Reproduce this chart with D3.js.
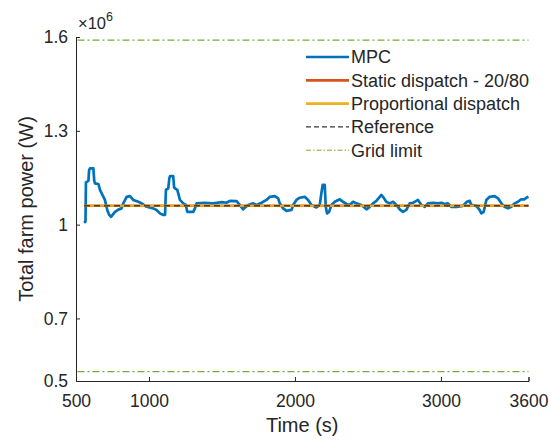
<!DOCTYPE html>
<html><head><meta charset="utf-8">
<script src="https://cdn.jsdelivr.net/npm/d3@7"></script>
<style>body{margin:0;background:#fff}svg{display:block;font-family:"Liberation Sans",Arial,sans-serif}</style>
</head><body><svg id="c" width="551" height="441"></svg>
<script>
// Values in units of 10^6 W
const mpcTime = [555,565,568,585,590,596,619,625,630,653,665,676,698,715,728,740,767,790,812,824,847,870,892,927,950,984,1029,1052,1075,1098,1110,1116,1132,1140,1145,1166,1172,1178,1194,1212,1235,1253,1262,1269,1303,1315,1326,1380,1440,1500,1531,1554,1600,1622,1645,1679,1714,1737,1771,1805,1828,1862,1885,1896,1919,1942,1976,1988,2010,2033,2067,2090,2113,2147,2170,2181,2190,2204,2211,2220,2234,2250,2273,2307,2330,2353,2375,2398,2421,2455,2490,2512,2535,2558,2592,2603,2626,2649,2672,2695,2718,2740,2763,2786,2809,2832,2843,2866,2889,2911,2946,2980,3003,3026,3048,3071,3106,3151,3178,3197,3208,3242,3265,3277,3293,3311,3334,3368,3391,3414,3436,3459,3482,3505,3528,3550,3573,3585,3600];
const mpcPower = [1.006,1.010,1.135,1.140,1.175,1.180,1.180,1.140,1.132,1.130,1.110,1.100,1.079,1.045,1.031,1.025,1.041,1.048,1.052,1.068,1.089,1.091,1.079,1.073,1.068,1.057,1.052,1.047,1.036,1.031,1.031,1.111,1.116,1.150,1.155,1.155,1.120,1.116,1.111,1.079,1.068,1.063,1.041,1.041,1.041,1.052,1.068,1.070,1.068,1.072,1.070,1.076,1.075,1.063,1.049,1.063,1.068,1.063,1.070,1.079,1.089,1.091,1.084,1.068,1.052,1.044,1.047,1.063,1.079,1.086,1.089,1.079,1.063,1.055,1.063,1.100,1.127,1.127,1.057,1.036,1.041,1.063,1.073,1.081,1.073,1.066,1.063,1.073,1.068,1.063,1.049,1.057,1.068,1.076,1.095,1.089,1.073,1.068,1.073,1.063,1.049,1.041,1.047,1.068,1.070,1.076,1.079,1.063,1.057,1.068,1.070,1.068,1.070,1.066,1.068,1.057,1.057,1.060,1.073,1.076,1.063,1.060,1.047,1.036,1.041,1.079,1.089,1.091,1.084,1.068,1.057,1.052,1.057,1.068,1.073,1.081,1.081,1.086,1.089];
const flatTime = [555, 3600];
const staticPower = [1.06, 1.06];
const propPower = [1.06, 1.06];
const referencePower = [1.06, 1.06];
const gridTime = [510, 3600];
const gridUpper = [1.59, 1.59];
const gridLower = [0.53, 0.53];
const xTicks = [500, 1000, 2000, 3000, 3600];
const yTicks = [0.5, 0.7, 1, 1.3, 1.6];
const seriesNames = ["MPC", "Static dispatch - 20/80", "Proportional dispatch", "Reference", "Grid limit"];
const colors = {mpc:"#0072BD", stat:"#D95319", prop:"#EDB120", ref:"#000000", grid:"#77AC30"};

const svg = d3.select("#c");
const m = {l:76, t:37, r:22.5, b:60};
const W = 551, H = 441;
const x = d3.scaleLinear().domain([500, 3600]).range([m.l, W - m.r]);
const y = d3.scaleLinear().domain([0.5, 1.6]).range([H - m.b, m.t]);

const line = d3.line().x(d => x(d[0])).y(d => y(d[1]));
const zip = (a, b) => a.map((v, i) => [v, b[i]]);

// Grid limits
[gridUpper, gridLower].forEach(g => {
  svg.append("path").datum(zip(gridTime, g)).attr("d", line).attr("fill","none")
    .attr("stroke", colors.grid).attr("stroke-width", 1.2).attr("stroke-dasharray", "7,3,2,3");
});

// MPC
svg.append("path").datum(zip(mpcTime, mpcPower)).attr("d", line).attr("fill","none")
  .attr("stroke", colors.mpc).attr("stroke-width", 2.7).attr("stroke-linejoin","round");
// static, proportional, reference
svg.append("path").datum(zip(flatTime, staticPower)).attr("d", line).attr("fill","none")
  .attr("stroke", colors.stat).attr("stroke-width", 2.5);
svg.append("path").datum(zip(flatTime, propPower)).attr("d", line).attr("fill","none")
  .attr("stroke", colors.prop).attr("stroke-width", 2);
svg.append("path").datum(zip(flatTime, referencePower)).attr("d", line).attr("fill","none")
  .attr("stroke", colors.ref).attr("stroke-width", 1).attr("stroke-dasharray", "6,4");

// Axes
const axCol = "#262626";
const xAxis = svg.append("g").attr("transform", `translate(0,${H - m.b})`)
  .call(d3.axisBottom(x).tickValues(xTicks).tickSizeInner(-4).tickSizeOuter(-4).tickPadding(10).tickFormat(d3.format("d")));
const yAxis = svg.append("g").attr("transform", `translate(${m.l},0)`)
  .call(d3.axisLeft(y).tickValues(yTicks).tickSizeInner(-4).tickSizeOuter(0).tickPadding(8).tickFormat(d => String(d)));
[xAxis, yAxis].forEach(a => {
  a.select(".domain").attr("stroke", axCol);
  a.selectAll(".tick line").attr("stroke", axCol);
  a.selectAll(".tick text").attr("fill", axCol).style("font-size", "17.5px").style("font-family", '"Liberation Sans",Arial,sans-serif');
});
xAxis.selectAll(".tick text").attr("dy", "0.9em");

// exponent
const ex = svg.append("text").attr("x", m.l + 2).attr("y", 29).attr("fill", axCol).style("font-size","16.5px");
ex.append("tspan").text("×10");
ex.append("tspan").attr("dy", -8).style("font-size","12.5px").text("6");

// axis labels
svg.append("text").attr("x", x(2050)).attr("y", 432).attr("text-anchor","middle")
  .attr("fill", axCol).style("font-size","20px").text("Time (s)");
svg.append("text").attr("transform", `translate(33,${(m.t + H - m.b)/2}) rotate(-90)`).attr("text-anchor","middle")
  .attr("fill", axCol).style("font-size","20px").text("Total farm power (W)");

// legend
const legItems = [
  {name: seriesNames[0], c: colors.mpc, w: 2.7, dash: null},
  {name: seriesNames[1], c: colors.stat, w: 2.7, dash: null},
  {name: seriesNames[2], c: colors.prop, w: 2.7, dash: null},
  {name: seriesNames[3], c: colors.ref, w: 1, dash: "5,3"},
  {name: seriesNames[4], c: colors.grid, w: 1, dash: "5,2,1.5,2"}
];
const lg = svg.append("g");
legItems.forEach((d, i) => {
  const yy = 57 + i * 23.3;
  lg.append("line").attr("x1", 306).attr("x2", 349).attr("y1", yy).attr("y2", yy)
    .attr("stroke", d.c).attr("stroke-width", d.w).attr("stroke-dasharray", d.dash);
  lg.append("text").attr("x", 351).attr("y", yy).attr("dy", "0.35em").attr("fill", axCol)
    .style("font-size","18px").text(d.name);
});
</script></body></html>
